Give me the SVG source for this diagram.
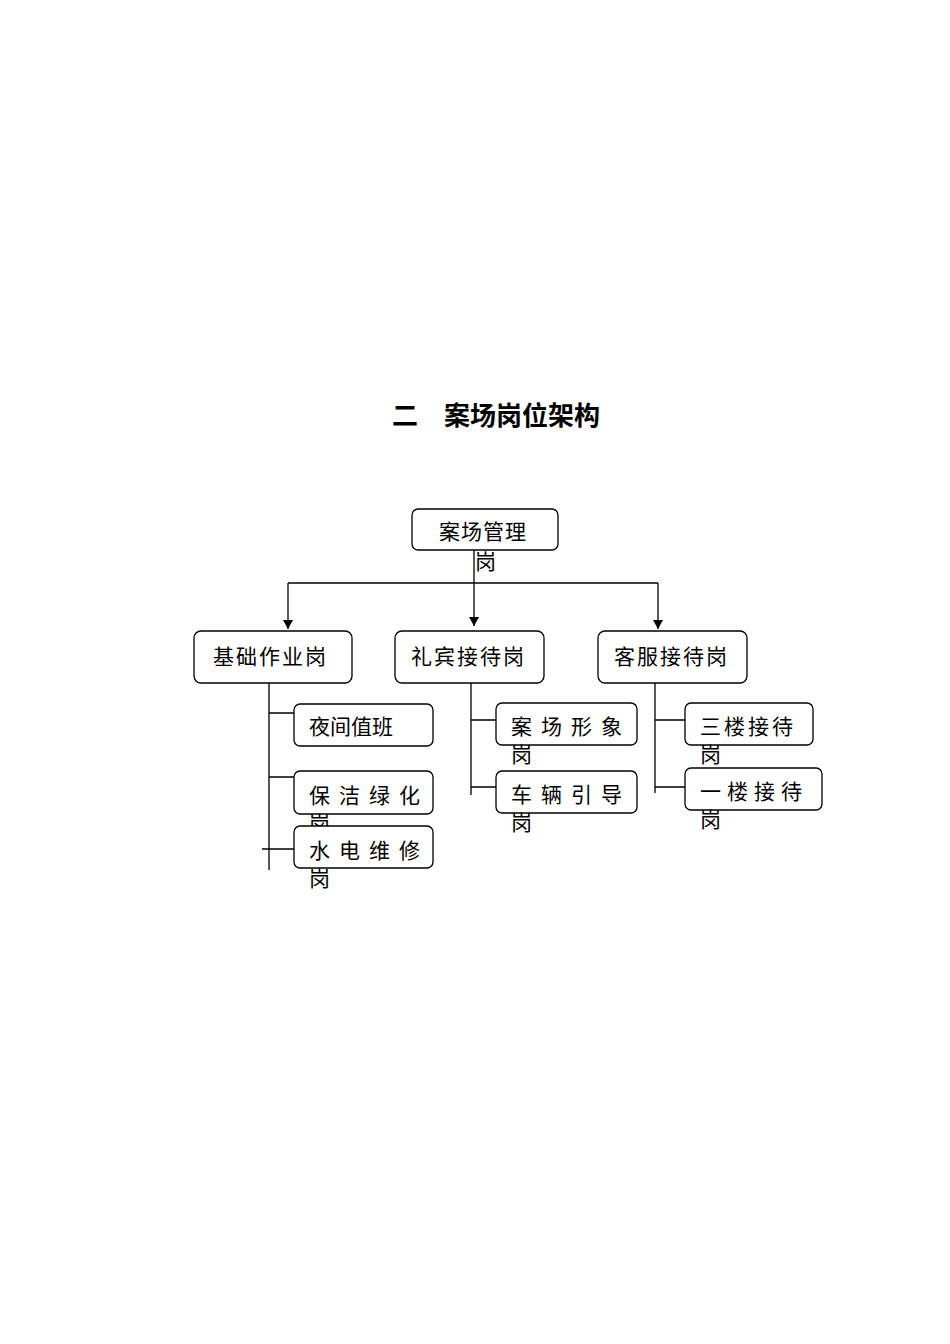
<svg xmlns="http://www.w3.org/2000/svg" width="950" height="1344" viewBox="0 0 950 1344">
<style>
.b{fill:#fff;stroke:#000;stroke-width:1.3}
.t{font-family:"Noto Sans CJK SC",sans-serif;font-size:21px;fill:#000}
.l{stroke:#000;stroke-width:1.3;fill:none}
</style>
<defs><marker id="a" markerWidth="10" markerHeight="10" refX="9" refY="5" orient="auto" markerUnits="userSpaceOnUse"><path d="M0,0L9,5L0,10Z" fill="#000"/></marker></defs>
<rect width="950" height="1344" fill="#fff"/>
<text x="496" y="425" text-anchor="middle" font-family="Noto Sans CJK SC,sans-serif" font-size="26" font-weight="bold">二　案场岗位架构</text>
<g id="connectors">
<path class="l" d="M474,550V583"/>
<path class="l" d="M288,583H658"/>
<path class="l" d="M288,583V629" marker-end="url(#a)"/>
<path class="l" d="M474,583V626" marker-end="url(#a)"/>
<path class="l" d="M658,583V629" marker-end="url(#a)"/>
<path class="l" d="M269,683V870M269,713H294M269,777H294M262,849H294"/>
<path class="l" d="M471,683V795M471,720H496M471,787H496"/>
<path class="l" d="M655,683V793M655,720H685M655,787H685"/>
</g>
<g id="n0"><rect class="b" x="412" y="509" width="146" height="41" rx="6"/><text class="t" x="439" y="539" letter-spacing="1">案场管理</text><text class="t" x="475" y="569">岗</text></g>
<g id="n1"><rect class="b" x="194" y="631" width="158" height="52" rx="7"/><text class="t" x="213" y="664" letter-spacing="2">基础作业岗</text></g>
<g id="n2"><rect class="b" x="395" y="631" width="149" height="52" rx="7"/><text class="t" x="411" y="664" letter-spacing="2">礼宾接待岗</text></g>
<g id="n3"><rect class="b" x="598" y="631" width="149" height="52" rx="7"/><text class="t" x="614" y="664" letter-spacing="2">客服接待岗</text></g>
<g id="n4"><rect class="b" x="294" y="704" width="139" height="42" rx="6"/><text class="t" x="309" y="734">夜间值班</text></g>
<g id="n5"><rect class="b" x="294" y="771" width="139" height="43" rx="6"/><text class="t" x="309" y="803" letter-spacing="9">保洁绿化</text><text class="t" x="309" y="831">岗</text></g>
<g id="n6"><rect class="b" x="294" y="826" width="139" height="42" rx="6"/><text class="t" x="309" y="858" letter-spacing="9">水电维修</text><text class="t" x="309" y="886">岗</text></g>
<g id="n7"><rect class="b" x="496" y="703" width="141" height="42" rx="6"/><text class="t" x="511" y="734" letter-spacing="9">案场形象</text><text class="t" x="511" y="762">岗</text></g>
<g id="n8"><rect class="b" x="496" y="771" width="141" height="42" rx="6"/><text class="t" x="511" y="802" letter-spacing="9">车辆引导</text><text class="t" x="511" y="830">岗</text></g>
<g id="n9"><rect class="b" x="685" y="703" width="128" height="42" rx="6"/><text class="t" x="700" y="734" letter-spacing="3">三楼接待</text><text class="t" x="700" y="762">岗</text></g>
<g id="n10"><rect class="b" x="685" y="768" width="137" height="42" rx="6"/><text class="t" x="700" y="799" letter-spacing="6">一楼接待</text><text class="t" x="700" y="827">岗</text></g>
</svg>
